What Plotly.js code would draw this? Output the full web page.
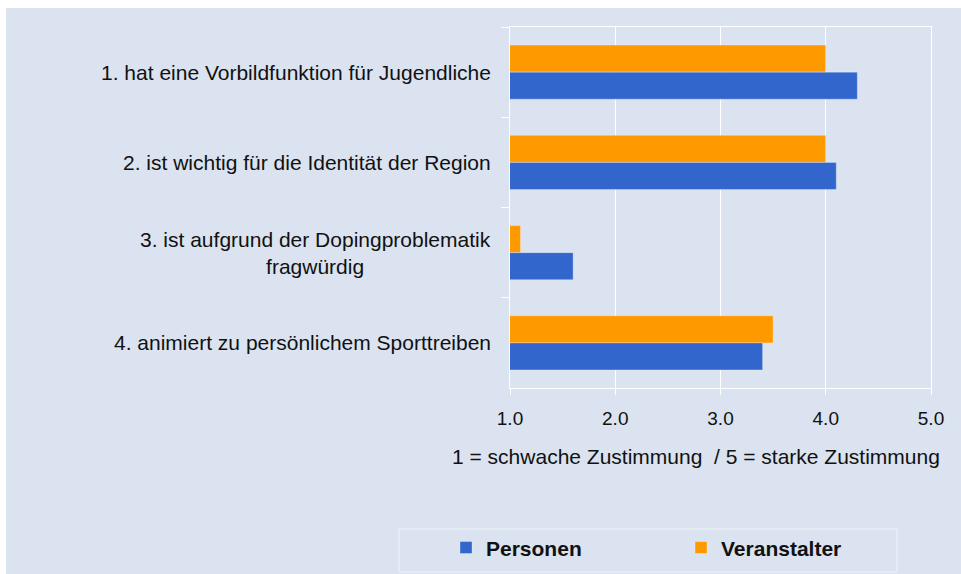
<!DOCTYPE html>
<html>
<head>
<meta charset="utf-8">
<script src="https://cdn.plot.ly/plotly-3.0.1.min.js"></script>
<style>
  html, body { margin: 0; padding: 0; background: #ffffff; }
  #chart { position: absolute; left: 6px; top: 8px; width: 955px; height: 566px; }
</style>
</head>
<body>
<div id="chart"></div>
<script>
const categories = [
  "1. hat eine Vorbildfunktion für Jugendliche",
  "2. ist wichtig für die Identität der Region",
  "3. ist aufgrund der Dopingproblematik<br>fragwürdig",
  "4. animiert zu persönlichem Sporttreiben"
];
const personen = [4.3, 4.1, 1.6, 3.4];
const veranstalter = [4.0, 4.0, 1.1, 3.5];
const xTickVals = [1, 2, 3, 4, 5];
const xTickText = ["1.0", "2.0", "3.0", "4.0", "5.0"];
const axisTitle = "1 = schwache Zustimmung \u00a0/ 5 = starke Zustimmung";

const FONT = "Liberation Sans, Arial, sans-serif";
const BG = "#DAE3EF";

const traces = [
  {
    type: "bar", orientation: "h", name: "Veranstalter",
    y: categories, x: veranstalter,
    marker: { color: "#FF9900", line: { color: "rgba(255,255,255,0.3)", width: 1 } },
    hoverinfo: "x+name"
  },
  {
    type: "bar", orientation: "h", name: "Personen",
    y: categories, x: personen,
    marker: { color: "#3366CC", line: { color: "rgba(255,255,255,0.3)", width: 1 } },
    hoverinfo: "x+name"
  }
];

const annotations = categories.map(c => ({
  xref: "paper", yref: "y", x: 0, y: c, xanchor: "right", yanchor: "middle",
  xshift: -17, text: c, showarrow: false, align: "center",
  font: { family: FONT, size: 21, color: "#111111" }
}));
annotations.push({
  xref: "paper", yref: "paper", x: 0.442, y: 0, yshift: -68,
  xanchor: "center", yanchor: "middle", text: axisTitle, showarrow: false,
  font: { family: FONT, size: 21, color: "#111111" }
});

const layout = {
  width: 955, height: 566,
  paper_bgcolor: BG, plot_bgcolor: BG,
  margin: { l: 504, r: 30, t: 19, b: 186, autoexpand: false },
  barmode: "group", bargap: 0.4, bargroupgap: 0,
  font: { family: FONT, size: 19, color: "#111111" },
  xaxis: {
    range: [1, 5], tickvals: xTickVals, ticktext: xTickText,
    showgrid: true, gridcolor: "#ffffff", gridwidth: 1,
    showline: true, linecolor: "#ffffff", linewidth: 1, mirror: true,
    ticks: "outside", ticklen: 6, tickcolor: "#ffffff", ticklabelstandoff: 7,
    tickfont: { family: FONT, size: 19, color: "#111111" },
    zeroline: false, fixedrange: true, automargin: false
  },
  yaxis: {
    type: "category", autorange: "reversed",
    categoryorder: "array", categoryarray: categories,
    showticklabels: false, showgrid: false,
    tickson: "boundaries", ticks: "outside", ticklen: 8, tickcolor: "#ffffff",
    showline: true, linecolor: "#ffffff", linewidth: 1, mirror: true,
    zeroline: false, fixedrange: true, automargin: false
  },
  showlegend: true,
  legend: {
    orientation: "h", traceorder: "reversed",
    x: -0.152, xanchor: "left", y: -0.443, yanchor: "middle",
    bgcolor: "rgba(0,0,0,0)", borderwidth: 0,
    entrywidth: 190,
    font: { family: FONT, size: 21, color: "#111111", weight: "bold" }
  },
  shapes: [{
    type: "rect", xref: "paper", yref: "paper",
    x0: (393 - 504) / 421, x1: (891 - 504) / 421,
    y0: (380 - 564) / 361, y1: (380 - 521) / 361,
    line: { color: "#F2F5F9", width: 1 }, fillcolor: "rgba(0,0,0,0)", layer: "below"
  }],
  annotations: annotations
};

Plotly.newPlot("chart", traces, layout, { displayModeBar: false, staticPlot: true });
</script>
</body>
</html>
